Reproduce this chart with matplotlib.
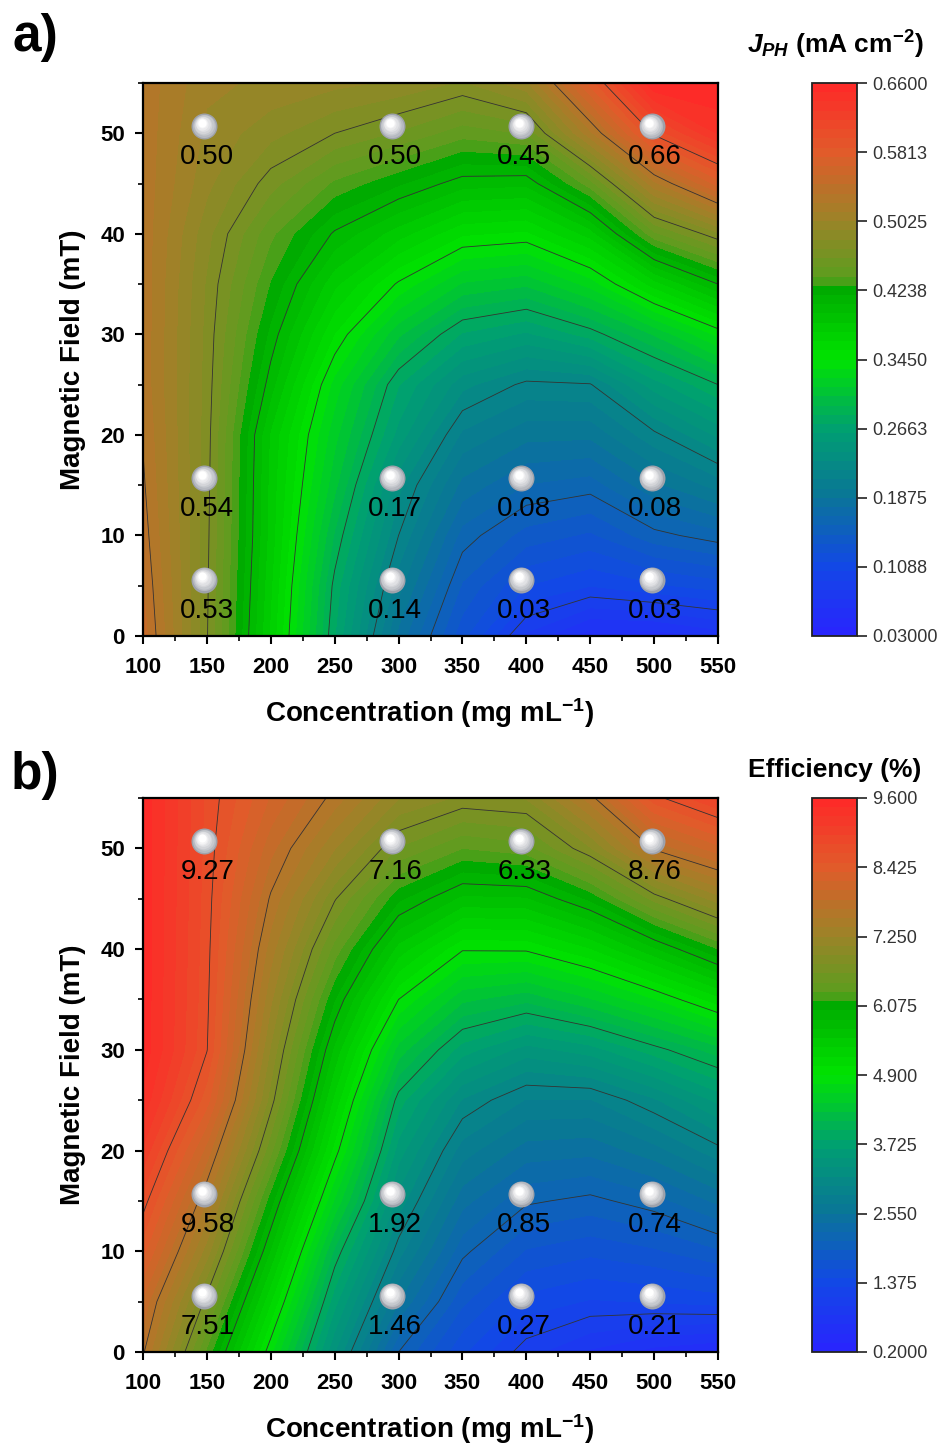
import numpy as np
import matplotlib
matplotlib.use('Agg')
import matplotlib.pyplot as plt
from matplotlib.colors import LinearSegmentedColormap, to_rgb
from matplotlib import transforms

plt.rcParams['font.family'] = ['Liberation Sans', 'DejaVu Sans']
plt.rcParams['mathtext.fontset'] = 'custom'
plt.rcParams['mathtext.rm'] = 'Liberation Sans:bold'
plt.rcParams['mathtext.it'] = 'Liberation Sans:italic:bold'
plt.rcParams['mathtext.bf'] = 'Liberation Sans:bold'

# grid (rows = field, cols = concentration)
conc = [100, 150, 200, 250, 300, 350, 400, 450, 500, 550]
field = [0, 5, 10, 15, 20, 25, 30, 35, 40, 45, 50, 55]

jph_grid = [
    [0.550, 0.472, 0.374, 0.272, 0.184, 0.128, 0.080, 0.055, 0.055, 0.065],
    [0.545, 0.473, 0.378, 0.278, 0.202, 0.144, 0.114, 0.104, 0.112, 0.119],
    [0.540, 0.474, 0.382, 0.291, 0.219, 0.162, 0.141, 0.133, 0.152, 0.162],
    [0.536, 0.475, 0.383, 0.306, 0.233, 0.184, 0.166, 0.161, 0.185, 0.202],
    [0.533, 0.476, 0.385, 0.317, 0.257, 0.206, 0.191, 0.190, 0.216, 0.242],
    [0.530, 0.477, 0.402, 0.330, 0.272, 0.233, 0.216, 0.218, 0.256, 0.282],
    [0.530, 0.478, 0.415, 0.355, 0.305, 0.270, 0.259, 0.276, 0.304, 0.337],
    [0.530, 0.480, 0.428, 0.379, 0.343, 0.312, 0.305, 0.328, 0.371, 0.408],
    [0.530, 0.485, 0.442, 0.406, 0.381, 0.357, 0.353, 0.381, 0.447, 0.479],
    [0.530, 0.495, 0.465, 0.437, 0.420, 0.402, 0.400, 0.445, 0.520, 0.570],
    [0.530, 0.500, 0.485, 0.471, 0.459, 0.444, 0.451, 0.520, 0.600, 0.640],
    [0.530, 0.505, 0.500, 0.495, 0.490, 0.480, 0.500, 0.580, 0.660, 0.660],
]

eff_grid = [
    [7.75, 6.27, 4.78, 3.34, 2.08, 1.48, 1.05, 0.80, 0.60, 0.50],
    [8.00, 6.71, 5.22, 3.70, 2.55, 1.80, 1.39, 1.28, 1.31, 1.36],
    [8.40, 7.17, 5.66, 4.08, 2.93, 2.13, 1.75, 1.65, 1.74, 1.90],
    [8.75, 7.56, 6.06, 4.56, 3.27, 2.45, 2.11, 2.03, 2.17, 2.43],
    [9.10, 7.97, 6.51, 4.99, 3.57, 2.78, 2.48, 2.44, 2.64, 2.96],
    [9.40, 8.41, 6.86, 5.32, 3.88, 3.16, 2.85, 2.85, 3.15, 3.53],
    [9.55, 8.67, 7.07, 5.64, 4.36, 3.72, 3.42, 3.57, 3.89, 4.20],
    [9.55, 8.70, 7.28, 6.00, 4.90, 4.31, 4.16, 4.41, 4.73, 5.15],
    [9.55, 8.72, 7.48, 6.40, 5.46, 4.92, 4.93, 5.20, 5.65, 6.15],
    [9.55, 8.74, 7.69, 6.80, 6.03, 5.64, 5.66, 6.03, 6.68, 7.18],
    [9.55, 8.76, 7.93, 7.26, 6.61, 6.31, 6.40, 6.92, 7.75, 8.13],
    [9.55, 8.78, 8.17, 7.65, 7.10, 6.90, 6.95, 7.65, 8.60, 9.00],
]

# measured samples
pts_conc = [148, 295, 396, 498]
pts_field = [50.7, 15.7, 5.6]
jph_pts = [[0.50, 0.50, 0.45, 0.66],
           [0.54, 0.17, 0.08, 0.08],
           [0.53, 0.14, 0.03, 0.03]]
eff_pts = [[9.27, 7.16, 6.33, 8.76],
           [9.58, 1.92, 0.85, 0.74],
           [7.51, 1.46, 0.27, 0.21]]

jph_ticks = [0.03, 0.1088, 0.1875, 0.2663, 0.345, 0.4238, 0.5025, 0.5813, 0.66]
jph_ticklabels = ['0.03000', '0.1088', '0.1875', '0.2663', '0.3450', '0.4238', '0.5025', '0.5813', '0.6600']
eff_ticks = [0.2, 1.375, 2.55, 3.725, 4.9, 6.075, 7.25, 8.425, 9.6]
eff_ticklabels = ['0.2000', '1.375', '2.550', '3.725', '4.900', '6.075', '7.250', '8.425', '9.600']

cmap = LinearSegmentedColormap.from_list('origin_like', [
    (0.0, '#2a24ff'),
    (0.125, '#1248e6'),
    (0.25, '#0a7598'),
    (0.375, '#00a070'),
    (0.5, '#00e400'),
    (0.635, '#00a800'),
    (0.645, '#5a9e1e'),
    (0.75, '#9a8428'),
    (0.875, '#e05c2a'),
    (1.0, '#ff2828'),
])

W, H = 943, 1446
fig = plt.figure(figsize=(W / 100, H / 100), dpi=100)


def fx(px):
    return px / W


def fy(py):
    return 1 - py / H


def panel(top, bottom, grid, vmin, vmax, pts, ticks, ticklabels, cbtitle, title_y, letter, letter_y):
    ax = fig.add_axes([fx(143), fy(bottom), fx(718) - fx(143), fy(top) - fy(bottom)])
    cax = fig.add_axes([fx(812), fy(bottom), fx(857) - fx(812), fy(top) - fy(bottom)])

    X, Y = np.meshgrid(conc, field)
    Z = np.array(grid)
    fill_levels = np.linspace(vmin, vmax, 61)
    cf = ax.contourf(X, Y, np.clip(Z, vmin, vmax), levels=fill_levels, cmap=cmap,
                     vmin=vmin, vmax=vmax)
    line_levels = np.linspace(vmin, vmax, 11)[1:-1]
    ax.contour(X, Y, Z, levels=line_levels, colors='#333333', linewidths=0.6)

    ax.set_xlim(100, 550)
    ax.set_ylim(0, 55)
    ax.set_xticks(range(100, 551, 50))
    ax.set_xticks(range(100, 551, 25), minor=True)
    ax.set_yticks(range(0, 51, 10))
    ax.set_yticks(range(0, 56, 5), minor=True)
    ax.tick_params(which='major', direction='out', length=6, width=1.5, labelsize=16)
    ax.tick_params(axis='x', which='major', pad=9)
    ax.tick_params(axis='y', which='major', pad=7)
    ax.tick_params(which='minor', direction='out', length=3.5, width=1.2)
    for lab in ax.get_xticklabels() + ax.get_yticklabels():
        lab.set_fontweight('bold')
    for s in ax.spines.values():
        s.set_linewidth(1.6)

    # sphere markers: stacked discs from grey rim to white highlight
    XP, YP = np.meshgrid(pts_conc, pts_field)
    c0 = np.array(to_rgb('#9ea2ab'))
    c1 = np.array(to_rgb('#ffffff'))
    n = 8
    for k in range(n):
        f = k / (n - 1)
        tr = transforms.offset_copy(ax.transData, fig=fig, x=-2.6 * f, y=3.2 * f, units='dots')
        ax.scatter(XP.ravel(), YP.ravel(), s=350 * (1 - 0.8 * f) ** 2 + 20 * f,
                   color=c0 + (c1 - c0) * f ** 0.7, zorder=5 + k, linewidths=0, transform=tr)
    for i, yv in enumerate(pts_field):
        for j, xv in enumerate(pts_conc):
            ax.annotate('%.2f' % pts[i][j], (xv, yv), xytext=(3, -31), textcoords='offset pixels',
                        ha='center', va='center', fontsize=20, color='black', zorder=20)

    cb = fig.colorbar(cf, cax=cax, ticks=ticks)
    cb.ax.set_yticklabels(ticklabels)
    cb.ax.tick_params(direction='out', length=7, width=1.3, labelsize=13, colors='#333333', pad=4)
    cb.ax.tick_params(which='minor', length=0)
    cb.outline.set_linewidth(1.3)
    cb.outline.set_edgecolor('#222222')

    fig.text(fx(835), fy(title_y), cbtitle, ha='center', va='center', fontsize=19, fontweight='bold')
    fig.text(fx(35), fy(letter_y), letter, ha='center', va='center', fontsize=37, fontweight='bold')
    fig.text(fx(430), fy(bottom + 77), 'Concentration (mg mL$^{\\mathregular{-1}}$)',
             ha='center', va='center', fontsize=20, fontweight='bold')
    fig.text(fx(73), fy((top + bottom) / 2), 'Magnetic Field (mT)', ha='center', va='center',
             rotation=90, fontsize=20, fontweight='bold')
    return ax


panel(83, 636, jph_grid, 0.03, 0.66, jph_pts, jph_ticks, jph_ticklabels,
      '$J_{PH}$ (mA cm$^{\\mathregular{-2}}$)', 45, 'a)', 37)
panel(798, 1352, eff_grid, 0.2, 9.6, eff_pts, eff_ticks, eff_ticklabels,
      'Efficiency (%)', 770, 'b)', 775)

fig.savefig('out.png', dpi=100)
